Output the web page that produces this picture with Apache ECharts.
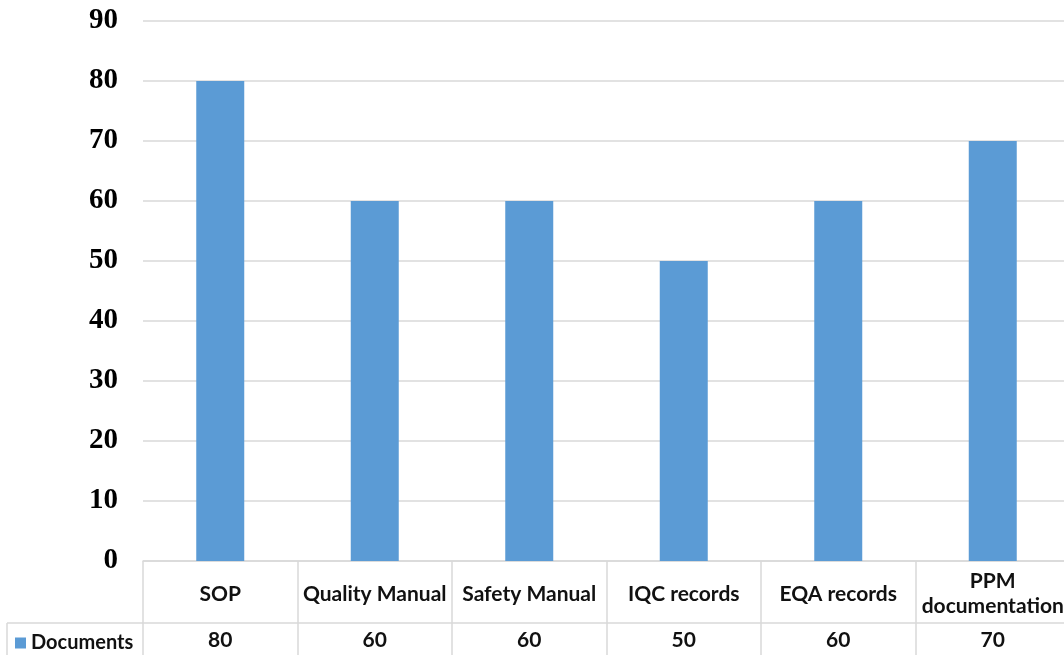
<!DOCTYPE html>
<html>
<head>
<meta charset="utf-8">
<script src="https://cdn.jsdelivr.net/npm/echarts@6/dist/echarts.min.js"></script>
<style>
  html, body { margin: 0; padding: 0; background: #fff; overflow: hidden; }
  #chart { width: 1070px; height: 655px; }
</style>
</head>
<body>
<div id="chart"></div>
<script>
// Document types checked and the count found for each
const categories = ['SOP', 'Quality Manual', 'Safety Manual', 'IQC records', 'EQA records', 'PPM\ndocumentation'];
const documents = [80, 60, 60, 50, 60, 70];
const seriesName = 'Documents';
const yTicks = { min: 0, max: 90, interval: 10 };

const barColor = '#5B9BD5';
const lineColor = '#D9D9D9';
const labelFont = 'Lato, "Liberation Sans", sans-serif';

const chart = echarts.init(document.getElementById('chart'));

chart.setOption({
  animation: false,
  backgroundColor: '#fff',
  grid: { left: 143, right: 0, top: 21, bottom: 94, containLabel: false },
  legend: {
    data: [{ name: seriesName, icon: 'rect' }],
    left: 10,
    top: 628,
    itemWidth: 11,
    itemHeight: 11,
    itemGap: 8,
    textStyle: { fontFamily: labelFont, fontWeight: 'bold', fontSize: 20, color: '#111' }
  },
  xAxis: [
    {
      // category header row of the data table
      type: 'category',
      data: categories,
      position: 'bottom',
      axisLine: { show: true, lineStyle: { color: lineColor, width: 1.5 } },
      axisTick: { show: true, length: 94, lineStyle: { color: lineColor, width: 1.5 } },
      axisLabel: {
        interval: 0,
        margin: 33,
        verticalAlign: 'middle',
        lineHeight: 25,
        fontFamily: labelFont,
        fontWeight: 'bold',
        fontSize: 21,
        color: '#111'
      },
      splitLine: { show: false }
    },
    {
      // value row of the data table
      type: 'category',
      data: categories,
      position: 'bottom',
      offset: 62,
      axisLine: { show: true, lineStyle: { color: lineColor, width: 1.5 } },
      axisTick: { show: false },
      axisLabel: {
        interval: 0,
        margin: 17,
        verticalAlign: 'middle',
        fontFamily: labelFont,
        fontWeight: 'bold',
        fontSize: 21,
        color: '#111',
        formatter: (v, i) => String(documents[i])
      },
      splitLine: { show: false }
    }
  ],
  yAxis: {
    type: 'value',
    min: yTicks.min,
    max: yTicks.max,
    interval: yTicks.interval,
    axisLine: { show: false },
    axisTick: { show: false },
    axisLabel: {
      margin: 25,
      fontFamily: '"Liberation Serif", "Times New Roman", serif',
      fontWeight: 'bold',
      fontSize: 29,
      color: '#000'
    },
    splitLine: { show: true, lineStyle: { color: lineColor, width: 1.5 } }
  },
  series: [
    {
      name: seriesName,
      type: 'bar',
      xAxisIndex: 0,
      data: documents,
      barWidth: 48,
      itemStyle: { color: barColor }
    }
  ]
});

// Extend the table's value-row border to the left around the legend cell
const origin = chart.convertToPixel({ gridIndex: 0 }, [0, 0]);
const yRowTop = origin[1] + 62;
chart.setOption({
  graphic: [
    {
      type: 'line',
      shape: { x1: 7, y1: yRowTop, x2: 143, y2: yRowTop },
      style: { stroke: lineColor, lineWidth: 1.5 },
      silent: true
    },
    {
      type: 'line',
      shape: { x1: 7, y1: yRowTop, x2: 7, y2: 655 },
      style: { stroke: lineColor, lineWidth: 1.5 },
      silent: true
    }
  ]
});
</script>
</body>
</html>
